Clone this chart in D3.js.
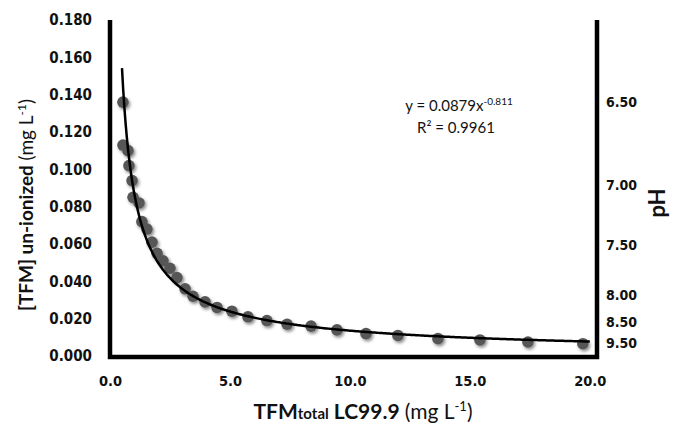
<!DOCTYPE html>
<meta charset="utf-8">
<head>
<script src="https://d3js.org/d3.v7.min.js"></script>
<style>
  body { margin: 0; background: #fff; }
  .tick text { font-family: "DejaVu Sans Condensed", "DejaVu Sans", sans-serif; font-weight: bold; fill: #111; }
  .ttl { font-family: Lato, "Open Sans", sans-serif; fill: #111; }
</style>
</head>
<body>
<div id="chart"></div>
<script>
// data
const tfmTotal = [0.54, 0.54, 0.75, 0.79, 0.92, 0.96, 1.21, 1.33, 1.54, 1.75, 1.96, 2.21, 2.50, 2.79,
  3.13, 3.46, 3.96, 4.46, 5.08, 5.75, 6.54, 7.38, 8.38, 9.46, 10.67, 12.0, 13.67, 15.42, 17.42, 19.71];
const tfmUnionized = [0.136, 0.113, 0.110, 0.102, 0.094, 0.085, 0.082, 0.072, 0.068, 0.061, 0.055, 0.051, 0.047, 0.042,
  0.036, 0.032, 0.029, 0.026, 0.024, 0.021, 0.019, 0.017, 0.016, 0.014, 0.012, 0.011, 0.0093, 0.0086, 0.0075, 0.0066];

// power trendline shown on the chart
const fitA = 0.0879, fitB = -0.811;
const fitRange = [0.5, 20];

// axis ticks
const xTicks = [0, 5, 10, 15, 20];
const yTicks = [0, 0.02, 0.04, 0.06, 0.08, 0.10, 0.12, 0.14, 0.16, 0.18];
const pHLabels = ["6.50", "7.00", "7.50", "8.00", "8.50", "9.50"];
const pHAt = [0.136, 0.0916, 0.0595, 0.0327, 0.0182, 0.0070];

const W = 675, H = 427;
const svg = d3.select("#chart").append("svg")
  .attr("width", W).attr("height", H);

const x = d3.scaleLinear().domain([0, 20.3]).range([110, 597]);
const y = d3.scaleLinear().domain([0, 0.18]).range([356, 20]);

// shadow for the markers
const defs = svg.append("defs");
const f = defs.append("filter").attr("id", "shade")
  .attr("x", "-50%").attr("y", "-50%").attr("width", "200%").attr("height", "200%");
f.append("feDropShadow").attr("dx", 1.5).attr("dy", 2).attr("stdDeviation", 1.6)
  .attr("flood-color", "#000").attr("flood-opacity", 0.45);

// axes
svg.append("g")
  .attr("transform", `translate(${x(0)},0)`)
  .call(d3.axisLeft(y).tickValues(yTicks).tickFormat(d3.format(".3f")).tickSize(0).tickPadding(18))
  .call(g => g.select(".domain").remove())
  .selectAll("text").style("font-size", "15px");

svg.append("g")
  .attr("transform", `translate(0,${y(0)})`)
  .call(d3.axisBottom(x).tickValues(xTicks).tickFormat(d3.format(".1f")).tickSize(0).tickPadding(20))
  .call(g => g.select(".domain").remove())
  .selectAll("text").style("font-size", "14.5px");

svg.append("g")
  .attr("transform", `translate(${x(20.3)},0)`)
  .call(d3.axisRight(y).tickValues(pHAt).tickFormat((d, i) => pHLabels[i]).tickSize(0).tickPadding(9))
  .call(g => g.select(".domain").remove())
  .selectAll("text").style("font-size", "14px");

// frame (left, bottom, right)
svg.append("path")
  .attr("d", `M${x(0)},${y(0.18)}V${y(0) + 1}H${x(20.3)}V${y(0.18)}`)
  .attr("fill", "none").attr("stroke", "#000").attr("stroke-width", 4.5);

// points
const pts = tfmTotal.map((v, i) => ({ x: v, y: tfmUnionized[i] }));
svg.append("g").attr("filter", "url(#shade)")
  .selectAll("circle").data(pts).join("circle")
  .attr("cx", d => x(d.x)).attr("cy", d => y(d.y)).attr("r", 5.8)
  .attr("fill", "#575757");

// trendline
const curve = d3.range(fitRange[0], fitRange[1] + 0.001, 0.05).map(v => [v, fitA * Math.pow(v, fitB)]);
svg.append("path")
  .datum(curve)
  .attr("d", d3.line().x(d => x(d[0])).y(d => y(d[1])))
  .attr("fill", "none").attr("stroke", "#000").attr("stroke-width", 2.5);

// equation
const eq = svg.append("text").attr("class", "ttl").attr("x", 459).attr("y", 111)
  .attr("text-anchor", "middle").style("font-size", "15px");
eq.append("tspan").text(`y = ${fitA}x`);
eq.append("tspan").attr("dy", -6).style("font-size", "10px").text(`${fitB}`);
svg.append("text").attr("class", "ttl").attr("x", 456).attr("y", 133)
  .attr("text-anchor", "middle").style("font-size", "15px")
  .text("R² = 0.9961");

// y title
const yt = svg.append("text").attr("class", "ttl")
  .attr("transform", "translate(33,205) rotate(-90)")
  .attr("text-anchor", "middle").style("font-size", "19px");
yt.append("tspan").style("font-weight", "bold").text("[TFM] un-ionized ");
yt.append("tspan").text("(mg L");
yt.append("tspan").attr("dy", -7).style("font-size", "12px").text("-1");
yt.append("tspan").attr("dy", 7).text(")");

// x title
const xt = svg.append("text").attr("class", "ttl")
  .attr("x", 363).attr("y", 419)
  .attr("text-anchor", "middle").style("font-size", "21px");
xt.append("tspan").style("font-weight", "bold").text("TFM");
xt.append("tspan").style("font-weight", "bold").style("font-size", "15px").text("total");
xt.append("tspan").style("font-weight", "bold").text(" LC99.9 ");
xt.append("tspan").text("(mg L");
xt.append("tspan").attr("dy", -8).style("font-size", "13px").text("-1");
xt.append("tspan").attr("dy", 8).text(")");

// pH title
svg.append("text").attr("class", "ttl")
  .attr("transform", "translate(665,203) rotate(-90)")
  .attr("text-anchor", "middle").style("font-size", "22px").style("font-weight", "bold")
  .text("pH");
</script>
</body>
